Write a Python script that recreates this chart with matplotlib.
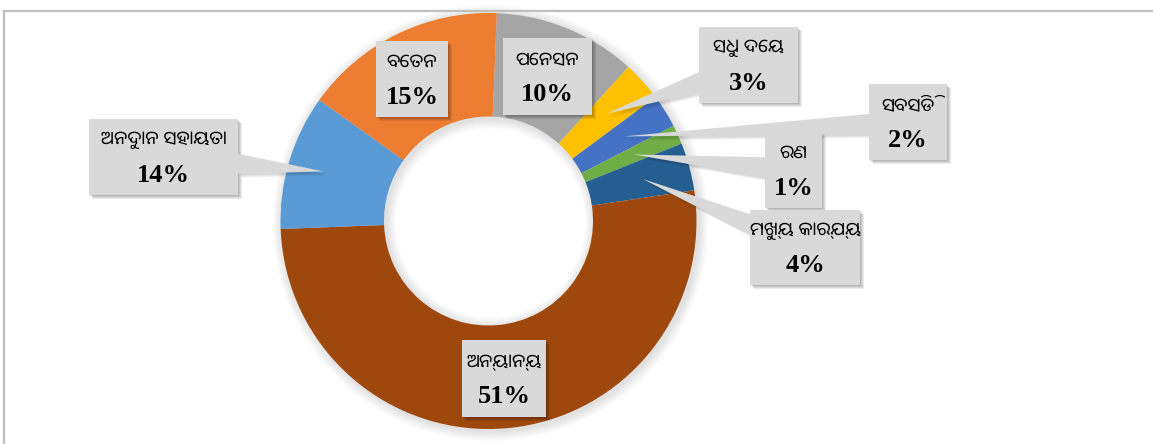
import numpy as np
import matplotlib
matplotlib.use("Agg")
import matplotlib.pyplot as plt
from matplotlib.patches import Rectangle, Polygon, Wedge

plt.rcParams['font.family'] = ['Noto Sans Oriya', 'DejaVu Sans']

# slice order clockwise from the top
categories = ['ପେନସନ', 'ସୁଧ ଦେୟ', 'ସବସିଡି', 'ରଣ', 'ମୁଖ୍ୟ କାର୍ଯ୍ୟ',
              'ଅନ୍ୟାନ୍ୟ', 'ଅନୁଦାନ ସହାୟତା', 'ବେତନ']
# share of the ring as drawn in the picture
shares = [11.1, 3.1, 2.6, 1.5, 3.7, 51.75, 10.5, 15.75]
# percentages printed on the labels
pct_labels = ['10%', '3%', '2%', '1%', '4%', '51%', '14%', '15%']
colors = ['#A5A5A5', '#FFC000', '#4472C4', '#70AD47', '#255E91',
          '#9E480E', '#5B9BD5', '#ED7D31']

W, H = 1153, 444
cx, cy = 488.5, 221.0   # image pixels, y down
r_out, r_in = 208.0, 104.5
start = 2.3  # degrees clockwise from 12 o'clock

# label boxes: left, top, right, bottom (image pixels) and whether a pointer is drawn
boxes = [
    (503, 38, 592, 115, False),
    (699, 27, 798, 103, True),
    (869, 84, 947, 160, True),
    (765, 132, 822, 208, True),
    (750, 210, 860, 285, True),
    (462, 340, 546, 417, False),
    (89, 119, 238, 195, True),
    (376, 41, 448, 117, False),
]


def fy(y):
    return H - y


fig = plt.figure(figsize=(W / 100, H / 100), dpi=100)
ax = fig.add_axes([0, 0, 1, 1])

# soft shadow around the ring
for k in range(10):
    ax.add_patch(Wedge((cx + 2, fy(cy + 2)), r_out + 10 - k, 0, 360, width=r_out - r_in + 20 - 2 * k,
                       facecolor='#000000', alpha=0.012, edgecolor='none', zorder=1))

ax.pie(shares, colors=colors, radius=r_out, center=(cx, fy(cy)),
       startangle=90 - start, counterclock=False,
       wedgeprops=dict(width=r_out - r_in, edgecolor='none', zorder=2))

# tips of the pointers: middle of each slice
cum = np.cumsum([0] + shares)
mids = start + (cum[:-1] + cum[1:]) / 2 / 100 * 360

for i, (l, t, r, b, pointer) in enumerate(boxes):
    bx, by = (l + r) / 2, (t + b) / 2
    if pointer:
        a = np.deg2rad(mids[i])
        rr = 0.83 * r_out if i == 6 else 0.77 * r_out
        tx, ty = cx + rr * np.sin(a), cy - rr * np.cos(a)
        # exit point from box along line to tip
        dx, dy = tx - bx, ty - by
        sx = ((r - l) / 2) / abs(dx) if dx != 0 else np.inf
        sy = ((b - t) / 2) / abs(dy) if dy != 0 else np.inf
        s = min(sx, sy)
        ex, ey = bx + dx * s, by + dy * s
        if sx < sy:
            p1, p2 = (ex, ey - 10), (ex, ey + 10)
        else:
            p1, p2 = (ex - 10, ey), (ex + 10, ey)
        for k in range(3):
            ax.add_patch(Polygon([(p1[0] + 2 + k, fy(p1[1] + 2 + k)), (p2[0] + 2 + k, fy(p2[1] + 2 + k)),
                                  (tx + 2 + k, fy(ty + 2 + k))],
                                 closed=True, facecolor='#000000', alpha=0.05,
                                 edgecolor='none', zorder=3))
        ax.add_patch(Polygon([(p1[0], fy(p1[1])), (p2[0], fy(p2[1])), (tx, fy(ty))],
                             closed=True, facecolor='#D9D9D9', edgecolor='none', zorder=5))
    # box shadow
    for k in range(4):
        ax.add_patch(Rectangle((l + 1 + k, fy(b + 1 + k)), r - l, b - t,
                               facecolor='#000000', alpha=0.08, edgecolor='none', zorder=4))
    ax.add_patch(Rectangle((l, fy(b)), r - l, b - t, facecolor='#D9D9D9',
                           edgecolor='none', zorder=5))
    h = b - t
    ax.text(bx, fy(t + 0.28 * h), categories[i], ha='center', va='center',
            fontsize=13.5, color='#000000', zorder=6)
    ax.text(bx, fy(t + 0.74 * h), pct_labels[i], ha='center', va='center',
            fontsize=19, fontweight='bold', family=['Liberation Serif', 'FreeSerif', 'DejaVu Serif'],
            color='#000000', zorder=6)

# chart frame (top and left edges visible)
ax.plot([3.5, W], [fy(11), fy(11)], color='#BFBFBF', linewidth=1.6, zorder=7)
ax.plot([3.5, 3.5], [fy(11), 0], color='#BFBFBF', linewidth=1.6, zorder=7)

ax.set_xlim(0, W)
ax.set_ylim(0, H)
ax.set_aspect('equal')
ax.axis('off')

fig.savefig('out.png', dpi=100, facecolor='white')
